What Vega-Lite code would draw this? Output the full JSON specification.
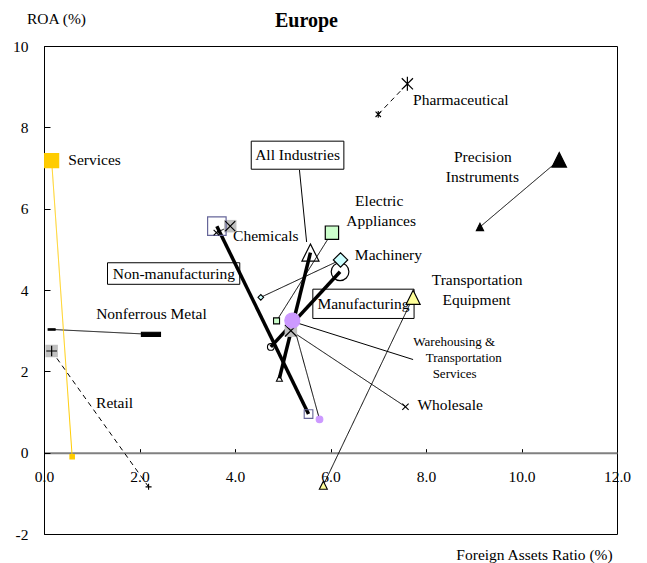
{
  "$schema": "https://vega.github.io/schema/vega-lite/v6.json",
  "width": 573,
  "height": 488,
  "autosize": {"type": "none"},
  "padding": {"left": 44, "top": 46, "right": 30, "bottom": 29},
  "background": "white",
  "config": {
    "view": {"stroke": "black", "strokeWidth": 1},
    "font": "Liberation Serif, Times New Roman, serif",
    "axis": {"labelFont": "Liberation Serif, Times New Roman, serif", "titleFont": "Liberation Serif, Times New Roman, serif", "labelColor": "black", "titleColor": "black", "titleFontWeight": "normal", "grid": false}
  },
  "title": {"text": "Europe", "font": "Liberation Serif, Times New Roman, serif", "fontSize": 20, "fontWeight": "bold", "color": "black", "anchor": "middle", "dx": -24, "offset": 16, "dy": 36},
  "datasets": {
    "moves": [
      {"industry": "All Industries", "group": "total", "period": "prev", "far": 4.93, "roa": 1.83},
      {"industry": "All Industries", "group": "total", "period": "latest", "far": 5.58, "roa": 4.92},
      {"industry": "Manufacturing", "group": "total", "period": "prev", "far": 4.75, "roa": 2.60},
      {"industry": "Manufacturing", "group": "total", "period": "latest", "far": 6.20, "roa": 4.45},
      {"industry": "Non-manufacturing", "group": "total", "period": "prev", "far": 5.54, "roa": 0.95},
      {"industry": "Non-manufacturing", "group": "total", "period": "latest", "far": 3.62, "roa": 5.57},
      {"industry": "Chemicals", "group": "industry", "period": "prev", "far": 3.61, "roa": 5.41},
      {"industry": "Chemicals", "group": "industry", "period": "latest", "far": 3.90, "roa": 5.57},
      {"industry": "Pharmaceutical", "group": "industry", "period": "prev", "far": 7.00, "roa": 8.32},
      {"industry": "Pharmaceutical", "group": "industry", "period": "latest", "far": 7.61, "roa": 9.07},
      {"industry": "Machinery", "group": "industry", "period": "prev", "far": 4.54, "roa": 3.82},
      {"industry": "Machinery", "group": "industry", "period": "latest", "far": 6.21, "roa": 4.74},
      {"industry": "Electric Appliances", "group": "industry", "period": "prev", "far": 4.87, "roa": 3.24},
      {"industry": "Electric Appliances", "group": "industry", "period": "latest", "far": 6.03, "roa": 5.41},
      {"industry": "Transportation Equipment", "group": "industry", "period": "prev", "far": 5.85, "roa": -0.80},
      {"industry": "Transportation Equipment", "group": "industry", "period": "latest", "far": 7.73, "roa": 3.82},
      {"industry": "Precision Instruments", "group": "industry", "period": "prev", "far": 9.13, "roa": 5.55},
      {"industry": "Precision Instruments", "group": "industry", "period": "latest", "far": 10.79, "roa": 7.20},
      {"industry": "Nonferrous Metal", "group": "industry", "period": "prev", "far": 0.16, "roa": 3.03},
      {"industry": "Nonferrous Metal", "group": "industry", "period": "latest", "far": 2.24, "roa": 2.91},
      {"industry": "Wholesale", "group": "industry", "period": "prev", "far": 7.57, "roa": 1.13},
      {"industry": "Wholesale", "group": "industry", "period": "latest", "far": 5.17, "roa": 3.00},
      {"industry": "Retail", "group": "industry", "period": "prev", "far": 2.19, "roa": -0.84},
      {"industry": "Retail", "group": "industry", "period": "latest", "far": 0.16, "roa": 2.50},
      {"industry": "Services", "group": "industry", "period": "prev", "far": 0.59, "roa": -0.10},
      {"industry": "Services", "group": "industry", "period": "latest", "far": 0.16, "roa": 7.18},
      {"industry": "Warehousing & Transportation Services", "group": "industry", "period": "prev", "far": 5.77, "roa": 0.82},
      {"industry": "Warehousing & Transportation Services", "group": "industry", "period": "latest", "far": 5.20, "roa": 3.25}
    ],
    "labels_left": [
      {"label": "Pharmaceutical", "far": 7.73, "roa": 8.67},
      {"label": "Services", "far": 0.51, "roa": 7.20},
      {"label": "Chemicals", "far": 3.96, "roa": 5.33},
      {"label": "Machinery", "far": 6.51, "roa": 4.86},
      {"label": "Wholesale", "far": 7.82, "roa": 1.17},
      {"label": "Retail", "far": 1.09, "roa": 1.21}
    ],
    "labels_center": [
      {"label": "Precision", "far": 9.19, "roa": 7.28},
      {"label": "Instruments", "far": 9.18, "roa": 6.78},
      {"label": "Electric", "far": 7.02, "roa": 6.19},
      {"label": "Appliances", "far": 7.06, "roa": 5.69},
      {"label": "Transportation", "far": 9.07, "roa": 4.24},
      {"label": "Equipment", "far": 9.06, "roa": 3.75},
      {"label": "Nonferrous Metal", "far": 2.25, "roa": 3.42}
    ],
    "labels_small": [
      {"label": "Warehousing &", "far": 8.59, "roa": 2.73},
      {"label": "Transportation", "far": 8.79, "roa": 2.34},
      {"label": "Services", "far": 8.60, "roa": 1.93}
    ],
    "box_labels": [
      {"label": "All Industries", "far": 5.31, "roa": 7.32},
      {"label": "Non-manufacturing", "far": 2.72, "roa": 4.40},
      {"label": "Manufacturing", "far": 6.69, "roa": 3.66}
    ],
    "boxes": [
      {"far": 4.34, "far2": 6.28, "roa": 7.66, "roa2": 6.97},
      {"far": 1.33, "far2": 4.10, "roa": 4.67, "roa2": 4.14},
      {"far": 5.63, "far2": 7.75, "roa": 4.02, "roa2": 3.30}
    ],
    "leaders": [
      {"far": 5.35, "roa": 6.95, "far2": 5.50, "roa2": 5.18},
      {"far": 5.22, "roa": 3.22, "far2": 7.73, "roa2": 2.29}
    ]
  },
  "encoding": {
    "x": {
      "field": "far", "type": "quantitative",
      "scale": {"domain": [0, 12], "nice": false, "zero": false},
      "axis": {
        "title": "Foreign Assets Ratio (%)", "values": [0, 2, 4, 6, 8, 10, 12], "format": ".1f",
        "offset": -81.33, "domainColor": "#808080", "domainWidth": 2,
        "tickColor": "black", "tickSize": -4, "labelPadding": 21,
        "labelFontSize": 15.5, "labelOverlap": false, "labelFlush": false,
        "titleFontSize": 15.5, "titleX": 490, "titleY": 102, "titleAlign": "center", "titleBaseline": "middle", "titleAnchor": null
      }
    },
    "y": {
      "field": "roa", "type": "quantitative",
      "scale": {"domain": [-2, 10], "nice": false, "zero": false},
      "axis": {
        "title": "ROA (%)", "values": [-2, 0, 2, 4, 6, 8, 10], "labelExpr": "'' + datum.value",
        "domainColor": "black", "tickColor": "black", "tickSize": -6, "labelPadding": 22,
        "labelFontSize": 15.5, "labelOverlap": false, "labelFlush": false,
        "titleFontSize": 15.5, "titleAngle": 0, "titleX": 12, "titleY": -28, "titleAlign": "center", "titleBaseline": "middle"
      }
    }
  },
  "resolve": {"scale": {"size": "independent"}},
  "layer": [
    {
      "data": {"name": "boxes"},
      "mark": {"type": "rect", "fill": "white", "stroke": "black", "strokeWidth": 1},
      "encoding": {"x2": {"field": "far2"}, "y2": {"field": "roa2"}}
    },
    {
      "data": {"name": "box_labels"},
      "mark": {"type": "text", "fontSize": 15.5, "color": "black", "align": "center", "baseline": "middle"},
      "encoding": {"text": {"field": "label"}}
    },
    {
      "data": {"name": "leaders"},
      "mark": {"type": "rule", "color": "black", "strokeWidth": 1},
      "encoding": {"x2": {"field": "far2"}, "y2": {"field": "roa2"}}
    },
    {
      "data": {"name": "moves"},
      "transform": [{"filter": "datum.group === 'industry'"}],
      "mark": {"type": "line", "strokeWidth": 1},
      "encoding": {
        "detail": {"field": "industry"},
        "color": {
          "field": "industry", "type": "nominal", "legend": null,
          "scale": {
            "domain": ["Chemicals", "Pharmaceutical", "Machinery", "Electric Appliances", "Transportation Equipment", "Precision Instruments", "Nonferrous Metal", "Wholesale", "Retail", "Services", "Warehousing & Transportation Services"],
            "range": ["black", "black", "black", "black", "black", "black", "black", "black", "black", "#FFCC00", "black"]
          }
        },
        "strokeDash": {
          "field": "industry", "type": "nominal", "legend": null,
          "scale": {
            "type": "ordinal",
            "domain": ["Chemicals", "Pharmaceutical", "Machinery", "Electric Appliances", "Transportation Equipment", "Precision Instruments", "Nonferrous Metal", "Wholesale", "Retail", "Services", "Warehousing & Transportation Services"],
            "range": [[1, 0], [5, 4], [1, 0], [1, 0], [1, 0], [1, 0], [1, 0], [1, 0], [5, 4], [1, 0], [1, 0]]
          }
        }
      }
    },
    {
      "data": {"name": "moves"},
      "transform": [{"filter": "datum.group === 'total'"}],
      "mark": {"type": "line", "strokeWidth": 3.5, "color": "black"},
      "encoding": {"detail": {"field": "industry"}}
    },
    {
      "data": {"name": "moves"},
      "transform": [{"filter": "datum.period === 'latest' && indexof(['Retail', 'Chemicals', 'Wholesale'], datum.industry) >= 0"}],
      "mark": {"type": "point", "shape": "square", "filled": true, "fill": "#C0C0C0", "strokeWidth": 0, "size": 156, "opacity": 1}
    },
    {
      "data": {"name": "moves"},
      "transform": [{"filter": "datum.period === 'latest'"}],
      "mark": {"type": "point", "filled": true, "opacity": 1, "strokeWidth": 1.2},
      "encoding": {
        "shape": {
          "field": "industry", "type": "nominal", "legend": null,
          "scale": {
            "domain": ["All Industries", "Manufacturing", "Non-manufacturing", "Chemicals", "Pharmaceutical", "Machinery", "Electric Appliances", "Transportation Equipment", "Precision Instruments", "Nonferrous Metal", "Wholesale", "Retail", "Services", "Warehousing & Transportation Services"],
            "range": ["M0,-1L1,1L-1,1Z", "circle", "square", "M-1,-1L1,1M1,-1L-1,1", "M-0.8,-0.8L0.8,0.8M0.8,-0.8L-0.8,0.8M0,-1L0,1", "diamond", "square", "M0,-1L1,1L-1,1Z", "M0,-1L1,1L-1,1Z", "M-1,-0.22L1,-0.22L1,0.22L-1,0.22Z", "M-1,-1L1,1M1,-1L-1,1", "M-1,0L1,0M0,-1L0,1", "square", "circle"]
          }
        },
        "fill": {
          "field": "industry", "type": "nominal", "legend": null,
          "scale": {
            "domain": ["All Industries", "Manufacturing", "Non-manufacturing", "Chemicals", "Pharmaceutical", "Machinery", "Electric Appliances", "Transportation Equipment", "Precision Instruments", "Nonferrous Metal", "Wholesale", "Retail", "Services", "Warehousing & Transportation Services"],
            "range": ["transparent", "transparent", "transparent", "transparent", "transparent", "#CCFFFF", "#CCFFCC", "#FFFF99", "black", "black", "transparent", "transparent", "#FFCC00", "#CC99FF"]
          }
        },
        "stroke": {
          "field": "industry", "type": "nominal", "legend": null,
          "scale": {
            "domain": ["All Industries", "Manufacturing", "Non-manufacturing", "Chemicals", "Pharmaceutical", "Machinery", "Electric Appliances", "Transportation Equipment", "Precision Instruments", "Nonferrous Metal", "Wholesale", "Retail", "Services", "Warehousing & Transportation Services"],
            "range": ["black", "black", "#666699", "black", "black", "black", "black", "black", "black", "black", "black", "black", "#FFCC00", "#CC99FF"]
          }
        },
        "size": {
          "field": "industry", "type": "nominal", "legend": null,
          "scale": {
            "type": "ordinal",
            "domain": ["All Industries", "Manufacturing", "Non-manufacturing", "Chemicals", "Pharmaceutical", "Machinery", "Electric Appliances", "Transportation Equipment", "Precision Instruments", "Nonferrous Metal", "Wholesale", "Retail", "Services", "Warehousing & Transportation Services"],
            "range": [289, 313, 342, 100, 196, 205, 177, 196, 210, 361, 137, 114, 196, 225]
          }
        }
      }
    },
    {
      "data": {"name": "moves"},
      "transform": [{"filter": "datum.period === 'prev'"}],
      "mark": {"type": "point", "filled": true, "opacity": 1, "strokeWidth": 1.1},
      "encoding": {
        "shape": {
          "field": "industry", "type": "nominal", "legend": null,
          "scale": {
            "domain": ["All Industries", "Manufacturing", "Non-manufacturing", "Chemicals", "Pharmaceutical", "Machinery", "Electric Appliances", "Transportation Equipment", "Precision Instruments", "Nonferrous Metal", "Wholesale", "Retail", "Services", "Warehousing & Transportation Services"],
            "range": ["M0,-1L1,1L-1,1Z", "circle", "square", "M-1,-1L1,1M1,-1L-1,1", "M-0.8,-0.8L0.8,0.8M0.8,-0.8L-0.8,0.8M0,-1L0,1", "diamond", "square", "M0,-1L1,1L-1,1Z", "M0,-1L1,1L-1,1Z", "M-1,-0.22L1,-0.22L1,0.22L-1,0.22Z", "M-1,-1L1,1M1,-1L-1,1", "M-1,0L1,0M0,-1L0,1", "square", "circle"]
          }
        },
        "fill": {
          "field": "industry", "type": "nominal", "legend": null,
          "scale": {
            "domain": ["All Industries", "Manufacturing", "Non-manufacturing", "Chemicals", "Pharmaceutical", "Machinery", "Electric Appliances", "Transportation Equipment", "Precision Instruments", "Nonferrous Metal", "Wholesale", "Retail", "Services", "Warehousing & Transportation Services"],
            "range": ["transparent", "transparent", "transparent", "transparent", "transparent", "#CCFFFF", "#CCFFCC", "#FFFF99", "black", "black", "transparent", "transparent", "#FFCC00", "#CC99FF"]
          }
        },
        "stroke": {
          "field": "industry", "type": "nominal", "legend": null,
          "scale": {
            "domain": ["All Industries", "Manufacturing", "Non-manufacturing", "Chemicals", "Pharmaceutical", "Machinery", "Electric Appliances", "Transportation Equipment", "Precision Instruments", "Nonferrous Metal", "Wholesale", "Retail", "Services", "Warehousing & Transportation Services"],
            "range": ["black", "black", "#666699", "black", "black", "black", "black", "black", "black", "black", "black", "black", "#FFCC00", "#CC99FF"]
          }
        },
        "size": {
          "field": "industry", "type": "nominal", "legend": null,
          "scale": {
            "type": "ordinal",
            "domain": ["All Industries", "Manufacturing", "Non-manufacturing", "Chemicals", "Pharmaceutical", "Machinery", "Electric Appliances", "Transportation Equipment", "Precision Instruments", "Nonferrous Metal", "Wholesale", "Retail", "Services", "Warehousing & Transportation Services"],
            "range": [36, 45, 75, 30, 45, 32, 36, 64, 53, 49, 40, 36, 20, 45]
          }
        }
      }
    },
    {
      "data": {"name": "labels_left"},
      "mark": {"type": "text", "fontSize": 15.5, "color": "black", "align": "left", "baseline": "middle"},
      "encoding": {"text": {"field": "label"}}
    },
    {
      "data": {"name": "labels_center"},
      "mark": {"type": "text", "fontSize": 15.5, "color": "black", "align": "center", "baseline": "middle"},
      "encoding": {"text": {"field": "label"}}
    },
    {
      "data": {"name": "labels_small"},
      "mark": {"type": "text", "fontSize": 13, "color": "black", "align": "center", "baseline": "middle"},
      "encoding": {"text": {"field": "label"}}
    }
  ]
}
